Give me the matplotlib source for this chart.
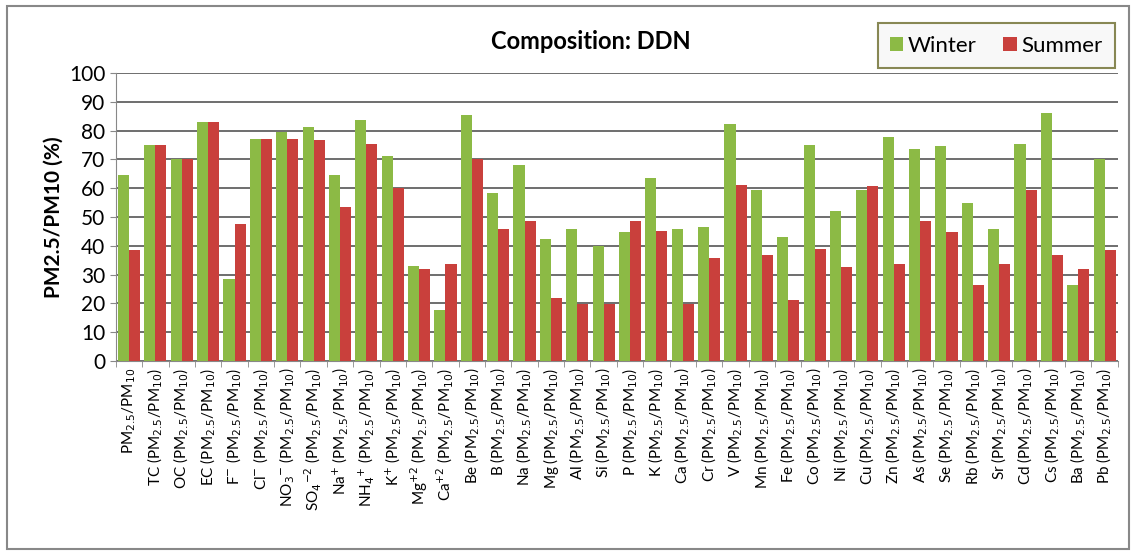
import numpy as np
import matplotlib.pyplot as plt
from matplotlib.patches import Rectangle

plt.rcParams['font.family'] = ['Lato', 'DejaVu Sans']
plt.rcParams['mathtext.fontset'] = 'dejavusans'

ratio = 'PM$_{2.5}$/PM$_{10}$'
species = ['', 'TC', 'OC', 'EC', 'F$^{-}$', 'Cl$^{-}$', 'NO$_3$$^{-}$', 'SO$_4$$^{-2}$',
           'Na$^{+}$', 'NH$_4$$^{+}$', 'K$^{+}$', 'Mg$^{+2}$', 'Ca$^{+2}$', 'Be', 'B', 'Na',
           'Mg', 'Al', 'Si', 'P', 'K', 'Ca', 'Cr', 'V', 'Mn', 'Fe', 'Co', 'Ni', 'Cu', 'Zn',
           'As', 'Se', 'Rb', 'Sr', 'Cd', 'Cs', 'Ba', 'Pb']
labels = [ratio] + [s + ' (' + ratio + ')' for s in species[1:]]

winter = [64.5, 75, 70, 83, 28.5, 77, 79.5, 81.3, 64.5, 83.5, 71, 33, 17.7, 85.5, 58.3, 68,
          42.5, 45.8, 40, 44.8, 63.5, 45.8, 46.5, 82.3, 59.5, 43, 75, 52, 59.5, 77.8,
          73.7, 74.5, 55, 45.8, 75.5, 86.2, 26.3, 70]
summer = [38.5, 75, 70, 83, 47.5, 77, 77, 76.7, 53.5, 75.2, 60, 31.8, 33.8, 70, 45.8, 48.5,
          22, 19.7, 19.7, 48.5, 45, 19.7, 35.8, 61.2, 36.8, 21.2, 38.8, 32.5, 60.8, 33.5,
          48.7, 44.7, 26.3, 33.5, 59.5, 36.8, 32, 38.6]

green = '#8cba45'
red = '#c9403c'

fig = plt.figure(figsize=(11.36, 5.57), dpi=100)
ax = fig.add_axes([0.102, 0.352, 0.882, 0.517])

x = np.arange(len(labels))
w = 0.42
ax.bar(x - w / 2, winter, w, color=green, label='Winter', zorder=3)
ax.bar(x + w / 2, summer, w, color=red, label='Summer', zorder=3)

ax.set_ylim(0, 100)
ax.set_xlim(-0.5, len(labels) - 0.5)
ax.set_yticks(range(0, 101, 10))
ax.yaxis.grid(True, color='#555555', linewidth=1.2, zorder=0)
ax.tick_params(axis='y', labelsize=15, length=4, color='#888888')
ax.set_xticks(x)
ax.set_xticklabels(labels, rotation=90, fontsize=11)
ax.set_xticks(np.arange(-0.5, len(labels), 1), minor=True)
ax.tick_params(axis='x', which='major', length=0, pad=5)
ax.tick_params(axis='x', which='minor', length=4, color='#888888')
for s in ['top', 'right']:
    ax.spines[s].set_visible(False)
ax.spines['left'].set_color('#888888')
ax.spines['bottom'].set_color('#888888')

ax.set_ylabel('PM2.5/PM10 (%)', fontsize=15, fontweight='bold')
fig.text(0.52, 0.925, 'Composition: DDN', fontsize=17, fontweight='bold', ha='center', va='center')

leg = fig.legend(loc='upper right', bbox_to_anchor=(0.991, 0.978), ncol=2, fontsize=16,
                 handlelength=0.6, handleheight=0.6, columnspacing=1.2, handletextpad=0.2,
                 fancybox=False, borderpad=0.55)
leg.get_frame().set_edgecolor('#6b6b2a')
leg.get_frame().set_linewidth(1.5)
leg.get_frame().set_facecolor('#f7f7f7')

fig.patches.append(Rectangle((0.006, 0.015), 0.988, 0.975, transform=fig.transFigure,
                             fill=False, edgecolor='#888888', linewidth=1.5))

plt.savefig('out.png')
